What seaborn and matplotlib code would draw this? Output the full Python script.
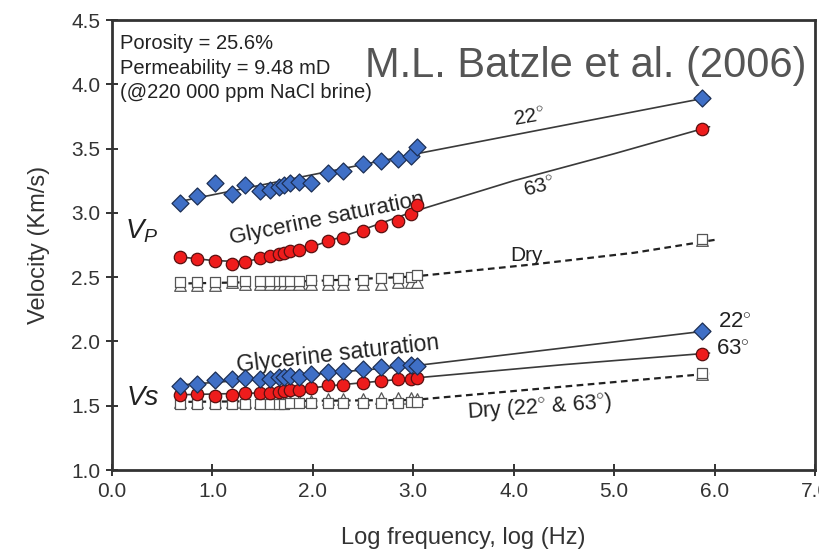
import numpy as np
import pandas as pd
import matplotlib
matplotlib.use("Agg")
import matplotlib.pyplot as plt
import seaborn as sns

# ---------------- data ----------------
# log frequency of the low-frequency measurements
freq_lo = [0.68, 0.85, 1.03, 1.19, 1.32, 1.47, 1.57, 1.66, 1.71, 1.77,
           1.86, 1.98, 2.15, 2.30, 2.50, 2.68, 2.85, 2.98, 3.04]
freq_hi = 5.87  # ultrasonic measurement

# Vp, glycerine saturated, 22 C (blue diamonds)
vp22 = [3.08, 3.13, 3.23, 3.15, 3.22, 3.17, 3.18, 3.20, 3.22, 3.235,
        3.24, 3.23, 3.31, 3.325, 3.38, 3.40, 3.42, 3.44, 3.51]
vp22_hi = 3.89
# Vp, glycerine saturated, 63 C (red circles)
vp63 = [2.66, 2.64, 2.627, 2.606, 2.616, 2.65, 2.668, 2.68, 2.69, 2.70,
        2.71, 2.74, 2.78, 2.806, 2.86, 2.90, 2.94, 2.99, 3.065]
vp63_hi = 3.65
# Vp dry (squares / triangles)
vp_dry_sq = [2.46, 2.46, 2.46, 2.47, 2.47, 2.47, 2.47, 2.47, 2.47, 2.47,
             2.47, 2.48, 2.48, 2.48, 2.48, 2.49, 2.49, 2.50, 2.52]
vp_dry_tri = [2.44, 2.44, 2.44, 2.46, 2.45, 2.45, 2.45, 2.45, 2.45, 2.45,
              2.45, 2.45, 2.45, 2.45, 2.45, 2.45, 2.46, 2.46, 2.46]
vp_dry_hi = [2.80, 2.79]

# Vs, glycerine saturated, 22 C
vs22 = [1.655, 1.67, 1.70, 1.707, 1.715, 1.707, 1.707, 1.72, 1.727, 1.73,
        1.727, 1.745, 1.766, 1.77, 1.787, 1.80, 1.82, 1.82, 1.81]
vs22_hi = 2.08
# Vs, glycerine saturated, 63 C
vs63 = [1.585, 1.59, 1.577, 1.58, 1.60, 1.60, 1.60, 1.606, 1.616, 1.62,
        1.623, 1.636, 1.66, 1.66, 1.68, 1.696, 1.71, 1.71, 1.715]
vs63_hi = 1.90
# Vs dry
vs_dry_sq = [1.51, 1.51, 1.51, 1.51, 1.51, 1.51, 1.51, 1.51, 1.51, 1.52,
             1.52, 1.52, 1.52, 1.52, 1.52, 1.52, 1.52, 1.53, 1.53]
vs_dry_tri = [1.53, 1.53, 1.53, 1.53, 1.53, 1.53, 1.53, 1.53, 1.53, 1.53,
              1.54, 1.54, 1.55, 1.55, 1.55, 1.56, 1.56, 1.56, 1.55]
vs_dry_hi = [1.755, 1.75]

# trend curves (knots)
vp22_line_x = [0.65, 3.0, 5.95]
vp22_line_y = [3.085, 3.455, 3.90]
vp63_line_x = [0.65, 1.0, 1.3, 1.6, 2.0, 2.5, 3.0, 4.0, 5.0, 5.95]
vp63_line_y = [2.66, 2.63, 2.62, 2.66, 2.74, 2.87, 3.01, 3.25, 3.46, 3.67]
vpdry_line_x = [0.65, 2.0, 3.0, 4.2, 5.2, 6.0]
vpdry_line_y = [2.45, 2.47, 2.505, 2.60, 2.69, 2.79]
vs22_line_x = [0.65, 1.5, 2.3, 3.0, 4.5, 5.95]
vs22_line_y = [1.66, 1.71, 1.765, 1.81, 1.95, 2.085]
vs63_line_x = [0.65, 1.5, 2.3, 3.0, 4.5, 5.95]
vs63_line_y = [1.585, 1.60, 1.665, 1.715, 1.82, 1.91]
vsdry_line_x = [0.65, 3.0, 5.95]
vsdry_line_y = [1.53, 1.545, 1.75]

x_ticks = [0, 1, 2, 3, 4, 5, 6, 7]
y_ticks = [1.0, 1.5, 2.0, 2.5, 3.0, 3.5, 4.0, 4.5]

# ---------------- style ----------------
sns.set_style("ticks")
plt.rcParams["font.family"] = ["Liberation Sans", "DejaVu Sans"]
plt.rcParams["mathtext.fontset"] = "custom"
plt.rcParams["mathtext.rm"] = "Liberation Sans"
plt.rcParams["mathtext.it"] = "Liberation Sans:italic"

fig = plt.figure(figsize=(8.2, 5.53), dpi=100)
ax = fig.add_axes([0.1366, 0.150, 0.8573, 0.8138])

BLUE = "#3f6fc6"
RED = "#ee1c1c"
LINE = "#3a3a3a"

def curve(xs, ys, dashed=False):
    sns.lineplot(x=xs, y=ys, ax=ax, color="#222222" if dashed else LINE,
                 lw=1.6 if dashed else 1.2, linestyle=(0, (3, 2)) if dashed else "-",
                 estimator=None, sort=True, zorder=2)

curve(vp22_line_x, vp22_line_y)
curve(vp63_line_x, vp63_line_y)
curve(vpdry_line_x, vpdry_line_y, dashed=True)
curve(vs22_line_x, vs22_line_y)
curve(vs63_line_x, vs63_line_y)
curve(vsdry_line_x, vsdry_line_y, dashed=True)

fx = freq_lo + [freq_hi]

def pts(ys, marker, face, edge, size, z=3):
    sns.scatterplot(x=fx, y=ys, ax=ax, marker=marker, color=face,
                    edgecolor=edge, linewidth=0.9, s=size, zorder=z)

# dry markers
pts(vp_dry_tri + [vp_dry_hi[1]], "^", "white", "#555555", 70)
pts(vp_dry_sq + [vp_dry_hi[0]], "s", "white", "#555555", 55)
pts(vs_dry_tri + [vs_dry_hi[1]], "^", "white", "#555555", 70)
pts(vs_dry_sq + [vs_dry_hi[0]], "s", "white", "#555555", 55)
# saturated markers
pts(vs63 + [vs63_hi], "o", RED, "#5a1010", 80, 4)
pts(vs22 + [vs22_hi], "D", BLUE, "#1c2f55", 75, 5)
pts(vp63 + [vp63_hi], "o", RED, "#5a1010", 80, 4)
pts(vp22 + [vp22_hi], "D", BLUE, "#1c2f55", 75, 5)

# ---------------- axes ----------------
ax.set_xlim(0, 7)
ax.set_ylim(1.0, 4.5)
ax.set_xticks(x_ticks)
ax.set_xticklabels([f"{t:.1f}" for t in x_ticks])
ax.set_yticks(y_ticks)
ax.set_yticklabels([f"{t:.1f}" for t in y_ticks])
for sp in ax.spines.values():
    sp.set_visible(True)
    sp.set_linewidth(2.0)
    sp.set_color("#333333")
ax.tick_params(axis="both", direction="inout", length=9, width=1.4,
               colors="#333333", labelsize=15, labelcolor="#333333", pad=4)
ax.tick_params(top=False, right=False)
ax.set_xlabel("Log frequency, log (Hz)", fontsize=17, color="#333333", labelpad=19)
ax.set_ylabel("Velocity (Km/s)", fontsize=17, color="#333333", labelpad=15)

# ---------------- annotations ----------------
tc = "#222222"
ax.text(0.08, 4.32, "Porosity = 25.6%", fontsize=14.5, color=tc, va="center")
ax.text(0.08, 4.12, "Permeability = 9.48 mD", fontsize=14.5, color=tc, va="center")
ax.text(0.08, 3.94, "(@220 000 ppm NaCl brine)", fontsize=14.5, color=tc, va="center")
ax.text(2.52, 4.14, "M.L. Batzle et al. (2006)", fontsize=30, color="#555555",
        va="center", ha="left")
ax.text(0.30, 2.855, r"$\mathit{V_P}$", fontsize=20, color=tc, ha="center", va="center")
ax.text(0.31, 1.56, "Vs", fontsize=20, style="italic", color=tc, ha="center", va="center")
ax.text(2.14, 2.95, "Glycerine saturation", fontsize=16, color=tc, rotation=11.5,
        ha="center", va="center")
ax.text(2.25, 1.905, "Glycerine saturation", fontsize=16.5, color=tc, rotation=6.5,
        ha="center", va="center")
ax.text(4.16, 3.74, r"22$^{\circ}$", fontsize=15, color=tc, rotation=10,
        ha="center", va="center")
ax.text(4.26, 3.20, r"63$^{\circ}$", fontsize=15, color=tc, rotation=15,
        ha="center", va="center")
ax.text(4.13, 2.67, "Dry", fontsize=15, color=tc, ha="center", va="center")
ax.text(6.2, 2.15, r"22$^{\circ}$", fontsize=16, color=tc, ha="center", va="center")
ax.text(6.18, 1.935, r"63$^{\circ}$", fontsize=16, color=tc, ha="center", va="center")
ax.text(4.26, 1.49, r"Dry (22$^{\circ}$ & 63$^{\circ}$)", fontsize=15.5, color=tc,
        rotation=4, ha="center", va="center")

fig.savefig("out.png", dpi=100)
